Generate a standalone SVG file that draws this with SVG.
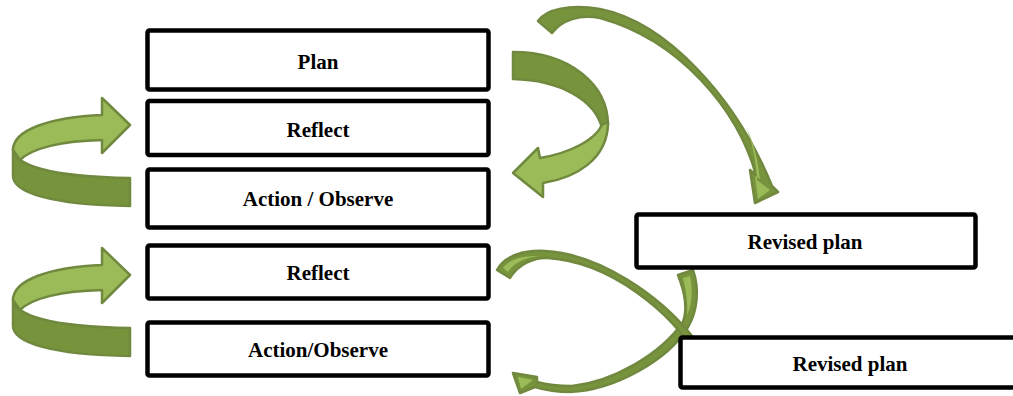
<svg xmlns="http://www.w3.org/2000/svg" width="1013" height="396" viewBox="0 0 1013 396">
<style>
.box{fill:#fff;stroke:#000;stroke-width:4.5}
.t{font-family:"Liberation Serif","Times New Roman",serif;font-weight:bold;font-size:21px;text-anchor:middle;fill:#000}
.lt{fill:#9BBB59;stroke:#71893F;stroke-width:2.5;stroke-linejoin:round}
.dk{fill:#77933C;stroke:#71893F;stroke-width:2.5;stroke-linejoin:round}
.hl{fill:#9BBB59}
</style>
<defs>
<g id="loop">
<path class="dk" d="M13,148 C13,165 50,177 130,178 L130,206 C50,205 13,192 13,176 Z"/>
<path class="lt" d="M102,115 L102,98 L130,125 L102,153 L102,140 C62,141 32,148 20,160 L13,150 C13,130 50,117 102,115 Z"/>
</g>
</defs>
<g id="connectors">
<use href="#loop"/>
<use href="#loop" transform="translate(0,150)"/>
<path class="dk" d="M513,52 C570,52 608,85 608,125 L602,128 C595,100 560,80 513,79 Z"/>
<path class="lt" d="M608,122 C608,160 575,178 543,183 L543,197 L513,173 L538,148 L540,158 C570,153 595,140 602,125 Z"/>
<path class="dk" d="M538,21 C546,9 570,4 600,9 C665,22 735,95 772,186 L778,192 L755,203 L750,170 L756,175 C738,110 680,40 600,18 C580,14 562,20 552,33 Z"/>
<path class="hl" d="M755,176 L760,179 C757,150 750,135 745,125 C752,140 756,160 757,180 L770,190 L758,199 Z"/>
<path class="dk" d="M678,275 L693,270 C700,290 697,312 688,327 C668,360 615,390 570,392 C557,392 545,390 535,387 L520,393 L513,373 L537,377 L537,382 C548,385 560,386 572,386 C612,382 660,355 683,322 C688,308 684,290 678,275 Z"/>
<path class="hl" d="M683,278 L690,276 C693,290 692,305 687,315 C688,302 686,290 683,278 Z"/>
<path class="hl" d="M518,377 L533,380 L521,389 Z"/>
<path class="dk" d="M497,270 C505,255 525,250 545,251 C600,254 660,296 692,336 C698,345 702,354 705,364 L712,370 L697,378 L687,358 L696,362 C697,360 697,358 697,357 C672,312 610,262 548,258 C535,257 518,264 510,278 Z"/>
<path class="hl" d="M503,268 C510,259 522,256 538,256 C525,258 513,263 508,272 Z"/>
<path class="hl" d="M694,363 L706,368 L698,374 Z"/>
</g>
<g id="n1"><rect class="box" x="147.5" y="30.5" width="341" height="59" rx="2"/><text class="t" x="318" y="69">Plan</text></g>
<g id="n2"><rect class="box" x="147.5" y="101" width="341" height="54" rx="2"/><text class="t" x="318" y="137">Reflect</text></g>
<g id="n3"><rect class="box" x="147.5" y="169.5" width="341" height="58" rx="2"/><text class="t" x="318" y="206">Action / Observe</text></g>
<g id="n4"><rect class="box" x="147.5" y="245.5" width="341" height="53" rx="2"/><text class="t" x="318" y="280">Reflect</text></g>
<g id="n5"><rect class="box" x="147.5" y="322.5" width="341" height="53" rx="2"/><text class="t" x="318" y="357">Action/Observe</text></g>
<g id="n6"><rect class="box" x="636.5" y="214.5" width="339" height="53" rx="2"/><text class="t" x="805" y="249">Revised plan</text></g>
<g id="n7"><rect class="box" x="680.5" y="337.5" width="340" height="50" rx="2"/><text class="t" x="850" y="371">Revised plan</text></g>
</svg>
